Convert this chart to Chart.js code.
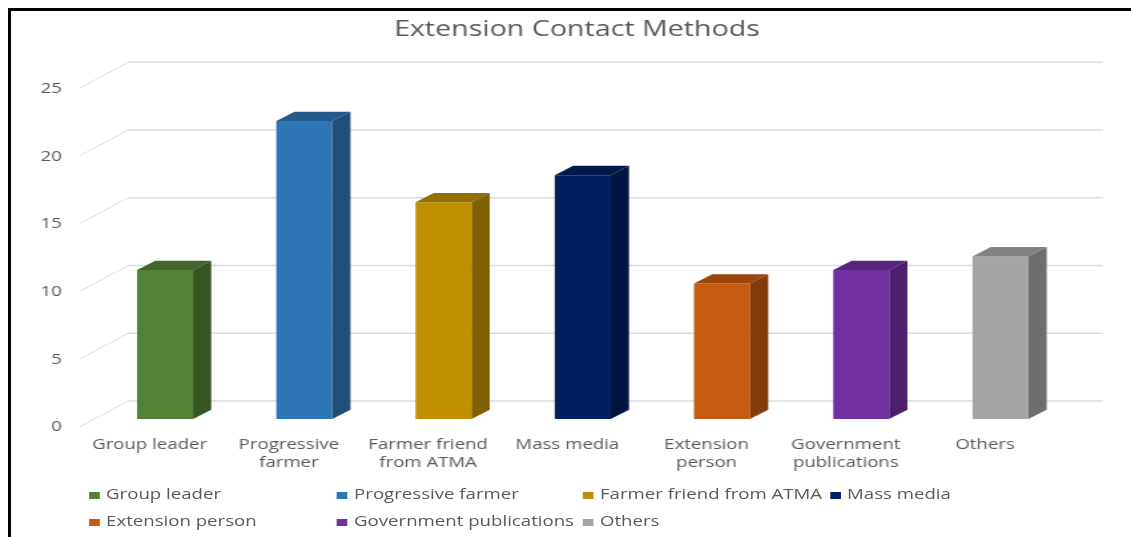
<!DOCTYPE html>
<html>
<head>
<meta charset="utf-8">
<title>Extension Contact Methods</title>
<script src="https://cdn.jsdelivr.net/npm/chart.js@4.4.1/dist/chart.umd.min.js"></script>
<style>
  html, body { margin: 0; padding: 0; background: #fff; width: 1131px; height: 537px; overflow: hidden; }
  /* the whole figure is laid out at 850px wide and widened to the page */
  #stage { position: absolute; left: 0; top: 0; width: 850px; height: 537px; transform: scaleX(1.3306); transform-origin: 0 0; }
  #chart { position: absolute; left: 0; top: 0; }
  #frame { position: absolute; left: 8px; top: 8px; width: 1200px; height: 600px; box-sizing: border-box;
           border-top: 3px solid #000; border-left: 3px solid #000; pointer-events: none; }
  .key-text { position: absolute; font-family: 'Open Sans', sans-serif; font-size: 14px; line-height: 14px;
              color: #595959; white-space: nowrap; }
  .key-box { position: absolute; width: 8px; height: 7.5px; }
</style>
</head>
<body>
<div id="stage">
  <canvas id="chart" width="850" height="537"></canvas>
  <div id="legend"></div>
</div>
<div id="frame"></div>
<script>
// Survey responses: number of farmers using each extension contact method
const categories = ['Group leader', 'Progressive farmer', 'Farmer friend from ATMA', 'Mass media',
                    'Extension person', 'Government publications', 'Others'];
const axisLabels = [['Group leader'], ['Progressive', 'farmer'], ['Farmer friend', 'from ATMA'], ['Mass media'],
                    ['Extension', 'person'], ['Government', 'publications'], ['Others']];
const contacts = [11, 22, 16, 18, 10, 11, 12];
const yTicks = [0, 5, 10, 15, 20, 25];

// face colours of each column: front, top, side
const frontColors = ['#548235', '#2E75B6', '#BF8F00', '#002060', '#C55A11', '#7030A0', '#A5A5A5'];
const topColors   = ['#41652A', '#24598D', '#937000', '#001A4D', '#9A460D', '#58267E', '#828282'];
const sideColors  = ['#375623', '#1F4E79', '#7F6000', '#001540', '#843C0C', '#4B1F6D', '#6D6D6D'];

const GRID = '#DCDCDC';
const TEXT = '#595959';
Chart.defaults.font.family = "'Open Sans', sans-serif";

// perspective offsets of the 3-D box
const BAR_DEPTH = { dx: 13.7, dy: -9.3 };
const WALL = { backDx: 24.6, backDy: -18, frontDx: -11.6, frontDy: 7.7 };

// back wall gridlines and the slanted side-wall lines
const wallPlugin = {
  id: 'wall',
  beforeDatasetsDraw(chart) {
    const { ctx, chartArea, scales: { y } } = chart;
    ctx.save();
    ctx.strokeStyle = GRID;
    y.ticks.forEach(t => {
      const py = y.getPixelForValue(t.value);
      ctx.lineWidth = 1.6;
      ctx.beginPath();
      ctx.moveTo(chartArea.left + WALL.backDx, py + WALL.backDy);
      ctx.lineTo(chartArea.right + WALL.backDx, py + WALL.backDy);
      ctx.stroke();
      ctx.lineWidth = 1;
      ctx.beginPath();
      ctx.moveTo(chartArea.left + WALL.frontDx, py + WALL.frontDy);
      ctx.lineTo(chartArea.left + WALL.backDx, py + WALL.backDy);
      ctx.stroke();
    });
    ctx.restore();
  }
};

// top and right faces of each column, built on the bar elements
const depthPlugin = {
  id: 'depth',
  afterDatasetsDraw(chart) {
    const { ctx } = chart;
    const { dx, dy } = BAR_DEPTH;
    chart.getDatasetMeta(0).data.forEach((bar, i) => {
      const { x, y, base, width } = bar.getProps(['x', 'y', 'base', 'width'], true);
      const l = x - width / 2, r = x + width / 2;
      ctx.save();
      ctx.fillStyle = topColors[i];
      ctx.beginPath();
      ctx.moveTo(l, y);
      ctx.lineTo(l + dx, y + dy);
      ctx.lineTo(r + dx, y + dy);
      ctx.lineTo(r, y);
      ctx.closePath();
      ctx.fill();
      ctx.fillStyle = sideColors[i];
      ctx.beginPath();
      ctx.moveTo(r, y);
      ctx.lineTo(r + dx, y + dy);
      ctx.lineTo(r + dx, base + dy);
      ctx.lineTo(r, base);
      ctx.closePath();
      ctx.fill();
      ctx.restore();
    });
  }
};

new Chart(document.getElementById('chart'), {
  type: 'bar',
  data: {
    labels: axisLabels,
    datasets: [{
      label: 'Extension Contact Methods',
      data: contacts,
      backgroundColor: frontColors,
      borderWidth: 0,
      barPercentage: 0.402,
      categoryPercentage: 1
    }]
  },
  options: {
    responsive: false,
    animation: false,
    layout: { padding: { left: 27.2, right: 10, top: 0, bottom: 58 } },
    plugins: {
      legend: { display: false },
      tooltip: { enabled: false },
      title: {
        display: true,
        text: 'Extension Contact Methods',
        color: TEXT,
        font: { size: 21.5, weight: 'normal', lineHeight: 1.2 },
        padding: { top: 17, bottom: 37.5 }
      }
    },
    scales: {
      x: {
        grid: { display: false, drawTicks: false },
        border: { display: false },
        ticks: { color: TEXT, font: { size: 14, lineHeight: 1.27 }, padding: 17, labelOffset: -11.6,
                 maxRotation: 0, autoSkip: false },
        afterFit: s => { s.height = 60; }
      },
      y: {
        min: yTicks[0],
        max: yTicks[yTicks.length - 1],
        grid: { display: false, drawTicks: false },
        border: { display: false },
        ticks: { stepSize: yTicks[1] - yTicks[0], color: TEXT, font: { size: 14 }, padding: 25.1, labelOffset: 8.5 },
        afterFit: s => { s.width = 44.5; }
      },
      yRight: {
        position: 'right',
        grid: { display: false, drawTicks: false },
        border: { display: false },
        ticks: { display: false },
        afterFit: s => { s.width = 35.8; }
      }
    }
  },
  plugins: [wallPlugin, depthPlugin]
});

// legend in four aligned columns, two rows
const legendCols = [66.9, 253.3, 438.1, 623.8];
const legendBaselines = [499.3, 526];
const legend = document.getElementById('legend');
categories.forEach((name, i) => {
  const col = legendCols[i % 4];
  const base = legendBaselines[Math.floor(i / 4)];
  const box = document.createElement('div');
  box.className = 'key-box';
  box.style.left = col + 'px';
  box.style.top = (base - 7.5) + 'px';
  box.style.background = frontColors[i];
  const txt = document.createElement('div');
  txt.className = 'key-text';
  txt.style.left = (col + 12.8) + 'px';
  txt.style.top = (base - 12.4) + 'px';
  txt.textContent = name;
  legend.appendChild(box);
  legend.appendChild(txt);
});
</script>
</body>
</html>
